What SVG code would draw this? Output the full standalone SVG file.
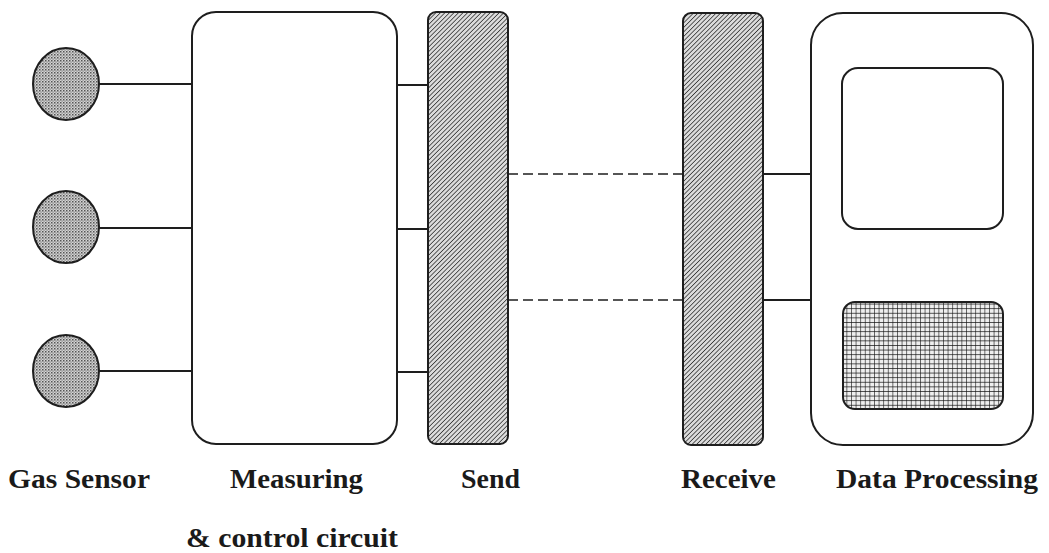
<svg xmlns="http://www.w3.org/2000/svg" width="1049" height="553" viewBox="0 0 1049 553">
<defs>
<pattern id="dots" width="3" height="3" patternUnits="userSpaceOnUse">
<rect width="3" height="3" fill="#d4d4d4"/>
<rect x="0" y="0" width="1.5" height="1.5" fill="#555"/>
<rect x="1.5" y="1.5" width="1.2" height="1.2" fill="#777"/>
</pattern>
<pattern id="hatch" width="3.2" height="3.2" patternUnits="userSpaceOnUse" patternTransform="rotate(45)">
<rect width="3.2" height="3.2" fill="#dcdcdc"/>
<line x1="0" y1="0" x2="0" y2="3.2" stroke="#222" stroke-width="1.4"/>
</pattern>
<pattern id="grid" width="4.6" height="4.6" patternUnits="userSpaceOnUse">
<rect width="4.6" height="4.6" fill="#eeeeee"/>
<path d="M0 0H4.6M0 0V4.6" stroke="#111" stroke-width="1.2"/>
</pattern>
</defs>
<style>
.ol{stroke:#1e1e1e;stroke-width:2;}
.ln{stroke:#1e1e1e;stroke-width:2;fill:none;}
.dash{stroke:#1e1e1e;stroke-width:1.6;stroke-dasharray:10 5;fill:none;}
.lbl{font-family:"Liberation Serif","Times New Roman",serif;font-weight:bold;font-size:28px;fill:#1a1a1a;}
</style>
<rect width="1049" height="553" fill="#ffffff"/>
<g id="connectors">
<line class="ln" x1="99" y1="84" x2="192" y2="84"/>
<line class="ln" x1="99" y1="228" x2="192" y2="228"/>
<line class="ln" x1="99" y1="371" x2="192" y2="371"/>
<line class="ln" x1="397" y1="85" x2="428" y2="85"/>
<line class="ln" x1="397" y1="229" x2="428" y2="229"/>
<line class="ln" x1="397" y1="372" x2="428" y2="372"/>
<line class="dash" x1="508" y1="174" x2="683" y2="174"/>
<line class="dash" x1="508" y1="300" x2="683" y2="300"/>
<line class="ln" x1="763" y1="174" x2="811" y2="174"/>
<line class="ln" x1="763" y1="300" x2="811" y2="300"/>
</g>
<g id="sensor1"><ellipse class="ol" cx="66" cy="84" rx="33" ry="36" fill="url(#dots)"/></g>
<g id="sensor2"><ellipse class="ol" cx="66" cy="227" rx="33" ry="36" fill="url(#dots)"/></g>
<g id="sensor3"><ellipse class="ol" cx="66" cy="371" rx="33" ry="36" fill="url(#dots)"/></g>
<g id="measuring"><rect class="ol" x="192" y="12" width="205" height="432" rx="24" ry="24" fill="#fff"/></g>
<g id="send"><rect class="ol" x="428" y="12" width="80" height="432" rx="8" ry="8" fill="url(#hatch)"/></g>
<g id="receive"><rect class="ol" x="683" y="13" width="80" height="432" rx="8" ry="8" fill="url(#hatch)"/></g>
<g id="data-processing">
<rect class="ol" x="811" y="13" width="222" height="432" rx="32" ry="32" fill="#fff"/>
<rect class="ol" x="842" y="68" width="161" height="161" rx="16" ry="16" fill="#fff"/>
<rect class="ol" x="843" y="302" width="160" height="107" rx="12" ry="12" fill="url(#grid)"/>
</g>
<g id="labels">
<text class="lbl" x="8" y="488" textLength="142" lengthAdjust="spacingAndGlyphs">Gas Sensor</text>
<text class="lbl" x="230" y="488" textLength="133" lengthAdjust="spacingAndGlyphs">Measuring</text>
<text class="lbl" x="186" y="547" textLength="212" lengthAdjust="spacingAndGlyphs">&amp; control circuit</text>
<text class="lbl" x="461" y="488" textLength="59" lengthAdjust="spacingAndGlyphs">Send</text>
<text class="lbl" x="681" y="488" textLength="95" lengthAdjust="spacingAndGlyphs">Receive</text>
<text class="lbl" x="836" y="488" textLength="202" lengthAdjust="spacingAndGlyphs">Data Processing</text>
</g>
</svg>
